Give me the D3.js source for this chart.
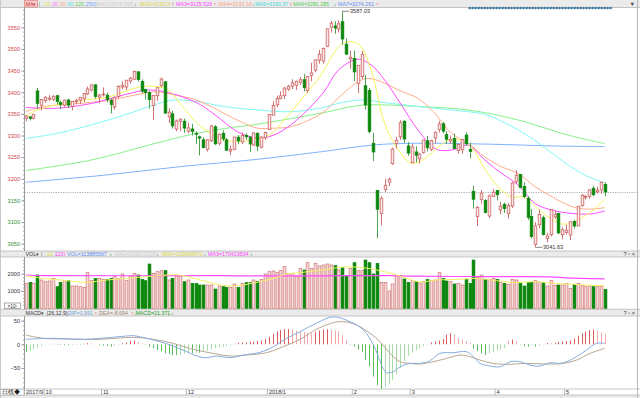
<!DOCTYPE html>
<html><head><meta charset="utf-8">
<script src="https://cdn.jsdelivr.net/npm/d3@7"></script>
<style>body{margin:0;background:#fff;} text{font-family:"Liberation Sans",Arial,sans-serif;}</style>
</head><body>
<script>
const dates = ["2017/09/27","2017/09/28","2017/09/29",
"2017/10/09","2017/10/10","2017/10/11","2017/10/12","2017/10/13","2017/10/16","2017/10/17","2017/10/18","2017/10/19","2017/10/20","2017/10/23","2017/10/24","2017/10/25","2017/10/26","2017/10/27","2017/10/30","2017/10/31",
"2017/11/01","2017/11/02","2017/11/03","2017/11/06","2017/11/07","2017/11/08","2017/11/09","2017/11/10","2017/11/13","2017/11/14","2017/11/15","2017/11/16","2017/11/17","2017/11/20","2017/11/21","2017/11/22","2017/11/23","2017/11/24","2017/11/27","2017/11/28","2017/11/29","2017/11/30",
"2017/12/01","2017/12/04","2017/12/05","2017/12/06","2017/12/07","2017/12/08","2017/12/11","2017/12/12","2017/12/13","2017/12/14","2017/12/15","2017/12/18","2017/12/19","2017/12/20","2017/12/21","2017/12/22","2017/12/25","2017/12/26","2017/12/27","2017/12/28","2017/12/29",
"2018/01/02","2018/01/03","2018/01/04","2018/01/05","2018/01/08","2018/01/09","2018/01/10","2018/01/11","2018/01/12","2018/01/15","2018/01/16","2018/01/17","2018/01/18","2018/01/19","2018/01/22","2018/01/23","2018/01/24","2018/01/25","2018/01/26","2018/01/29","2018/01/30","2018/01/31",
"2018/02/01","2018/02/02","2018/02/05","2018/02/06","2018/02/07","2018/02/08","2018/02/09","2018/02/12","2018/02/13","2018/02/14","2018/02/22","2018/02/23","2018/02/26","2018/02/27","2018/02/28",
"2018/03/01","2018/03/02","2018/03/05","2018/03/06","2018/03/07","2018/03/08","2018/03/09","2018/03/12","2018/03/13","2018/03/14","2018/03/15","2018/03/16","2018/03/19","2018/03/20","2018/03/21","2018/03/22","2018/03/23","2018/03/26","2018/03/27","2018/03/28","2018/03/29","2018/03/30",
"2018/04/02","2018/04/03","2018/04/04","2018/04/09","2018/04/10","2018/04/11","2018/04/12","2018/04/13","2018/04/16","2018/04/17","2018/04/18","2018/04/19","2018/04/20","2018/04/23","2018/04/24","2018/04/25","2018/04/26","2018/04/27",
"2018/05/02","2018/05/03","2018/05/04","2018/05/07","2018/05/08","2018/05/09","2018/05/10","2018/05/11","2018/05/14","2018/05/15","2018/05/16"];

const openP = [3340,3343,3340,3403,3370,3381,3384,3383,3392,3376,
3370,3382,3367,3378,3382,3385,3396,3405,3417,3389,
3395,3393,3381,3366,3390,3412,3412,3426,3430,3447,
3425,3406,3399,3369,3392,3415,3424,3343,3350,3315,
3333,3333,3310,3315,3305,3297,3290,3268,3288,3320,
3282,3305,3290,3264,3268,3296,3285,3300,3296,3278,
3305,3273,3295,3314,3347,3371,3386,3392,3407,3414,
3416,3423,3429,3404,3439,3451,3474,3472,3506,3550,
3553,3546,3563,3511,3477,3478,3420,3436,3415,3404,
3282,3173,3120,3175,3192,3235,3281,3297,3333,3276,
3237,3262,3246,3261,3288,3268,3294,3314,3327,3302,
3287,3293,3265,3267,3301,3268,3171,3113,3152,3150,
3114,3159,3173,3128,3141,3120,3137,3194,3210,3182,
3155,3113,3048,3094,3110,3062,3071,3112,3120,3071,
3076,3070,3101,3091,3138,3157,3159,3178,3170,3174,3187];

const highP = [3346,3345,3350,3410,3384,3391,3393,3393,3394,3381,
3383,3385,3379,3385,3389,3397,3413,3418,3418,3396,
3411,3399,3386,3390,3416,3425,3428,3435,3450,3449,
3430,3408,3403,3393,3412,3434,3426,3363,3357,3337,
3339,3339,3330,3327,3310,3300,3296,3292,3324,3324,
3305,3312,3294,3277,3297,3301,3307,3305,3299,3307,
3308,3298,3309,3349,3379,3392,3402,3412,3417,3430,
3427,3435,3442,3437,3468,3475,3498,3503,3548,3565,
3564,3566,3587.03,3524,3496,3496,3463,3496,3440,3410,
3306,3173,3160,3200,3203,3272,3297,3335,3335,3285,
3280,3275,3260,3290,3299,3290,3309,3334,3331,3310,
3300,3304,3281,3292,3307,3283,3184,3137,3174,3153,
3164,3176,3174,3147,3145,3144,3193,3220,3211,3192,
3160,3130,3100,3129,3115,3075,3130,3126,3122,3088,
3094,3101,3105,3137,3165,3163,3176,3184,3182,3193,3192];

const lowP = [3333,3335,3337,3362,3358,3375,3379,3380,3372,3361,
3366,3363,3358,3372,3373,3377,3394,3402,3385,3374,
3390,3377,3351,3360,3386,3407,3405,3420,3428,3425,
3398,3383,3362,3336,3380,3411,3350,3329,3316,3310,
3310,3306,3305,3300,3280,3254,3270,3263,3285,3278,
3277,3287,3264,3255,3266,3280,3280,3290,3262,3276,
3264,3270,3290,3314,3346,3365,3383,3384,3403,3407,
3405,3417,3402,3398,3425,3446,3466,3466,3504,3538,
3535,3538,3510,3486,3454,3426,3398,3431,3360,3305,
3241,3062.74,3092,3170,3183,3232,3270,3290,3283,3253,
3237,3238,3235,3258,3263,3264,3282,3307,3305,3281,
3280,3269,3258,3258,3276,3247,3131,3091,3142,3120,
3109,3159,3150,3118,3121,3108,3132,3188,3178,3155,
3105,3062,3041.63,3085,3069,3053,3067,3107,3072,3060,
3071,3058,3085,3091,3136,3152,3154,3160,3166,3165,3160];

const closeP = [3345.27,3339.64,3348.94,3374.38,3382.99,3388.28,3386.10,3390.52,3378.47,3372.04,
3381.79,3370.17,3378.65,3380.70,3388.25,3396.90,3407.57,3416.81,3390.34,3393.34,
3395.91,3383.31,3371.74,3388.17,3413.57,3415.46,3427.79,3432.67,3447.84,3429.55,
3402.52,3399.25,3382.91,3392.40,3410.50,3430.46,3351.92,3353.82,3322.23,3333.66,
3337.86,3317.19,3317.62,3309.62,3303.68,3293.96,3272.05,3289.99,3322.20,3280.81,
3303.04,3292.44,3266.14,3267.92,3296.39,3287.61,3300.06,3297.06,3280.46,3306.12,
3275.78,3296.38,3307.17,3348.33,3369.11,3385.71,3391.75,3409.48,3413.90,3421.83,
3425.34,3428.94,3410.49,3436.59,3444.67,3474.75,3487.86,3501.36,3546.50,3559.47,
3548.31,3558.13,3523.00,3488.01,3480.83,3446.98,3462.08,3487.50,3370.65,3309.26,
3262.05,3129.85,3154.13,3184.96,3199.16,3268.56,3289.02,3329.57,3292.07,3259.41,
3273.75,3254.53,3256.93,3289.64,3271.67,3288.41,3307.17,3326.70,3310.24,3291.38,
3291.11,3269.88,3279.25,3290.64,3280.95,3263.48,3152.76,3133.72,3166.65,3122.29,
3160.53,3168.90,3163.18,3136.63,3131.11,3138.29,3190.32,3208.08,3180.16,3159.05,
3110.65,3066.80,3091.40,3117.38,3071.54,3068.01,3128.93,3117.97,3075.03,3082.23,
3081.18,3100.86,3091.03,3136.64,3161.50,3159.15,3174.41,3163.26,3174.03,3192.12,3169.57];

// volume in units of 10^5
const volume = [1443,1500,1443,1925,1636,1540,1580,1732,1250,1500,
1597,1597,1290,1290,1250,1212,2060,1597,1732,1732,
1674,1674,1732,1828,1732,1983,1597,1867,2021,1925,
1674,1597,2560,2021,2117,2175,2175,1636,1732,1867,
1867,1540,1636,1443,1443,1347,1347,1347,1347,1115,
1290,1250,1212,1212,1405,1212,1443,1482,1482,1636,
1560,1674,1983,2117,2156,2060,2175,2407,2021,2021,
1828,2310,2214,2638,2310,2600,2450,2503,2561,2503,
2464,2214,2368,1867,2310,2638,2175,2175,2792,2638,
1983,2600,1501,1501,1000,1405,1867,1886,1694,1501,
1597,1540,1462,1540,1674,1597,1636,2060,1732,1578,
1540,1405,1443,1347,1674,1443,2792,1790,1925,1674,
1674,1732,1674,1482,1443,1385,1674,1636,1443,1290,
1482,1501,1597,1520,1482,1290,1597,1327,1347,1347,
1443,1154,1385,1443,1308,1250,1290,1250,1250,1250,1096];

// price moving averages: [candle index, value]
const ma10 = [[0,3345],[3,3359],[8,3371],[17,3384],[21,3388],[25.5,3401],[30,3413],[34,3413],[37,3405],[40,3374],[44.5,3328],[48,3305],[51.5,3290],[56,3286],[60,3294],[63,3300],[67,3336],[72,3390],[76.5,3440],[81,3505],[83.5,3517],[86.5,3509],[89.5,3451],[93,3328],[96.5,3267],[100,3236],[103.5,3247],[107,3274],[110,3290],[114.5,3282],[119,3222],[122.5,3180],[126,3158],[129,3158],[132.5,3132],[136,3108],[139.5,3095],[143,3105],[146.5,3124],[150,3152.8]];
const ma20 = [[0,3365],[8,3363],[17,3374],[25.5,3394],[31.5,3405],[36,3401],[41,3388],[45.3,3371],[49.6,3344],[54.8,3309],[60,3294],[64.3,3301],[68.6,3324],[73,3359],[77.3,3401],[81,3451],[86,3476],[89.5,3463],[93,3428],[97.3,3371],[101.6,3313],[106,3270],[108.5,3265],[112,3270],[114.6,3278],[119,3243],[123.2,3213],[127.5,3186],[131.9,3143],[136.2,3128],[141.4,3120],[146.5,3119],[150,3125.5]];
const ma30 = [[0,3355],[4.7,3367],[12.5,3373],[21.2,3381],[29.8,3396],[34.1,3401],[38.4,3394],[42.7,3386],[47.1,3371],[51.4,3351],[55.7,3332],[60,3317],[64.3,3317],[68.6,3320],[73,3334],[77.3,3355],[80.9,3386],[86.1,3424],[88.7,3432],[93,3421],[96.5,3405],[101.6,3386],[106,3351],[110.3,3305],[114.6,3282],[118.9,3251],[123.2,3228],[127.5,3213],[131.9,3182],[136.2,3159],[141.4,3136],[144.8,3130],[150,3133.2]];
const ma60 = [[0,3293],[8.2,3305],[16.8,3324],[25.5,3347],[34.1,3373],[38.4,3382],[44.5,3378],[51.4,3367],[60,3359],[68.6,3355],[77.3,3365],[80.9,3374],[87,3382],[93,3376],[101.6,3367],[110.3,3359],[118.9,3349],[124,3330],[130,3300],[136,3262],[140,3235],[145,3208],[150,3190.4]];
const ma120 = [[0,3219],[16.8,3243],[34.1,3283],[42.7,3302],[51.4,3316],[60,3326],[77.3,3353],[87,3370],[101.6,3367],[114.6,3359],[127.5,3336],[140.5,3301],[150,3281.3]];
const ma250 = [[0,3192],[20,3208],[40,3228],[60,3245],[77,3263],[90,3278],[101,3282],[120,3280],[136,3276],[150,3274.3]];

// volume moving averages: [candle index, value]
const volMa10 = [[0,1867],[4.6,1732],[10.6,1597],[15.8,1500],[21,1636],[26.2,1732],[31.3,1828],[36.5,1925],[40,1925],[43.4,1732],[46.9,1540],[50.3,1347],[53.8,1290],[57.2,1385],[60.7,1540],[64.2,1732],[67.6,1983],[71.1,2060],[75.4,2175],[78,2250],[81.4,2368],[86.6,2368],[91.8,2175],[96.1,1925],[99.6,1674],[102.1,1520],[106.5,1636],[112.5,1674],[116.8,1732],[122,1597],[127.2,1482],[131.5,1540],[136.7,1443],[141.9,1385],[146,1340],[150,1300]];
const volMa120 = [[0,1925],[5,1890],[50,1885],[60,1870],[76,1880],[95,1890],[100,1860],[120,1830],[136,1820],[140,1760],[150,1704]];

// MACD (26,12,9)
const difPts = [[0,10.5],[6.3,12.6],[14.9,10.5],[19.3,12.6],[26.2,17.5],[27.9,18.2],[31.3,12.6],[34.8,5.5],[38.2,-3.6],[41.7,-15.6],[46,-28.3],[49.5,-24.8],[53,-28.3],[56.4,-22.7],[60.7,-17],[64.2,-5],[67.6,12.6],[71.1,26.7],[75.4,45],[79.7,58],[84,47.8],[87.5,30.2],[90.1,-1.5],[92.6,-50.9],[93.5,-60],[95.2,-57.9],[97,-47.4],[99.6,-40.3],[102.1,-40.3],[104.7,-34.7],[107.3,-19.2],[110.8,-17.7],[114.2,-15.6],[116,-26.2],[117.7,-40.3],[120.3,-45.9],[122.9,-47.4],[125.5,-36.8],[128.1,-36.8],[130.6,-43.8],[133.2,-45.9],[135.8,-38.9],[138.4,-40.3],[140.1,-36.8],[142.7,-26.2],[145.3,-12.1],[147.9,2],[150,1.991]];
const deaPts = [[0,19.6],[4.6,12.6],[10.6,11.2],[19.3,10.5],[27.9,14.7],[33.1,10.5],[38.2,2],[43.4,-10.7],[48.6,-19.2],[53,-24.8],[57.2,-22.7],[62.4,-17.7],[66.7,-5],[71.1,10.5],[75.4,32],[79.7,45.7],[82.3,47.8],[85.7,40.8],[89.2,23.2],[91.8,5.5],[94.4,-19.2],[97,-36.8],[99.6,-40.3],[102.1,-41.7],[105.6,-36.8],[109,-29.7],[112.5,-22.7],[115.1,-26.2],[117.7,-33.3],[121.1,-40.3],[124.6,-42.4],[129.8,-40.3],[135,-41.7],[139.3,-40.3],[142.7,-33.3],[146.2,-19.2],[150,-8.694]];
const macdHist = [-16,-14,-11,-7,-4,-1,0.5,1,-1,-1.5,
-2,-2,-1.5,-1,-1,1,2.5,2,1,-2,
-3,-4,-5,-3,-1,2,4,7,8,5,
2,-1.5,-5,-8,-12,-15,-19,-21,-23,-23,
-22,-20,-19,-19,-18,-18,-16,-14,-11,-8,
-6,-5,-4,-2,1,3,4,4,5,5.5,
7,8,11,16,22,27,30,32,32,31,
29,28,26,25,23,26,29,31,32,31,
29,27,20,8,-2,-5,-11,-16,-33,-47,
-68,-86,-95,-90,-84,-76,-63,-50,-35,-24,
-17,-12,-8,-4,-1,4,6,8,11,20,
23,20,13,10,7,3,-9,-14,-19,-23,
-19,-16,-13,-11,-8,7,10,6,-2,-4,
-5,-2,-5,-3,0.5,3,2,3,5,6,
7,8,12,18,23,27,30,31,29,25,
21.371];

const priceTicks = [3550,3500,3450,3400,3350,3300,3250,3200,3150,3100,3050];
const volTicks = [2000,1000];
const macdTicks = [50,0,-50];

// ---------- drawing ----------
const W = 640, H = 398, FS = 5.6, HFS = 5.3;
const svg = d3.select("body").append("svg").attr("width", W).attr("height", H).style("display","block");
svg.append("rect").attr("width", W).attr("height", H).attr("fill", "#fff");

const n = closeP.length;
const x = d3.scaleLinear().domain([0, n - 1]).range([25.7, 604.7]);
const yP = d3.scaleLinear().domain([3050, 3550]).range([243.7, 27.3]);
const yV = d3.scaleLinear().domain([0, 2000]).range([308.3, 273.7]);
const yM = d3.scaleLinear().domain([-50, 50]).range([368, 320.6]);
const fmt = d3.format("d");

const PL = 24.5, PR = 637;
// panel strips
const strips = [[0, 7.5], [251, 6], [309.3, 6.7], [395, 3]];
strips.forEach(s => svg.append("rect").attr("x", 0).attr("y", s[0]).attr("width", W).attr("height", s[1]).attr("fill", "#ebebeb"));
[7.5, 251, 257, 309.3, 316, 389, 395].forEach(l => svg.append("line").attr("x1", 0).attr("x2", W).attr("y1", l).attr("y2", l).attr("stroke", "#b8b8b8").attr("stroke-width", 0.8));
svg.append("line").attr("x1", PR + 0.5).attr("x2", PR + 0.5).attr("y1", 0).attr("y2", 398).attr("stroke", "#b8b8b8");
svg.append("line").attr("x1", 0.5).attr("x2", 0.5).attr("y1", 0).attr("y2", 398).attr("stroke", "#c8c8c8");

// axes
function styleAxis(g, fmtColor) {
  g.select(".domain").attr("stroke", "#9a9a9a");
  g.selectAll(".tick line").attr("stroke", "#9a9a9a");
  g.selectAll(".tick text").attr("font-size", FS).attr("font-family", "Liberation Sans, Arial, sans-serif")
    .attr("fill", fmtColor || "#333");
}
const lastClose = closeP[n - 1];
const gPm = svg.append("g").attr("transform", `translate(${PL},0)`)
  .call(d3.axisLeft(yP).tickValues(d3.range(3040, 3591, 10)).tickSize(1.5).tickFormat(""));
gPm.select(".domain").remove(); gPm.selectAll("line").attr("stroke", "#aaa");
const gP = svg.append("g").attr("transform", `translate(${PL},0)`)
  .call(d3.axisLeft(yP).tickValues(priceTicks).tickSize(3).tickPadding(1.5).tickSizeOuter(0).tickFormat(fmt));
gP.select(".domain").attr("d", `M0,7.5V251`);
styleAxis(gP);
gP.selectAll(".tick text").attr("fill", d => d > lastClose ? "#d04848" : "#2f8f2f");

const gVm = svg.append("g").attr("transform", `translate(${PL},0)`)
  .call(d3.axisLeft(yV).tickValues(d3.range(200, 2801, 200)).tickSize(1.5).tickFormat(""));
gVm.select(".domain").remove(); gVm.selectAll("line").attr("stroke", "#aaa");
const gV = svg.append("g").attr("transform", `translate(${PL},0)`)
  .call(d3.axisLeft(yV).tickValues(volTicks).tickSize(3).tickPadding(1.5).tickSizeOuter(0).tickFormat(fmt));
gV.select(".domain").attr("d", `M0,257V309.3`);
styleAxis(gV);

const gMm = svg.append("g").attr("transform", `translate(${PL},0)`)
  .call(d3.axisLeft(yM).tickValues(d3.range(-90, 91, 10)).tickSize(1.5).tickFormat(""));
gMm.select(".domain").remove(); gMm.selectAll("line").attr("stroke", "#aaa");
gMm.selectAll(".tick").filter(d => yM(d) < 317 || yM(d) > 389).remove();
const gM = svg.append("g").attr("transform", `translate(${PL},0)`)
  .call(d3.axisLeft(yM).tickValues(macdTicks).tickSize(3).tickPadding(1.5).tickSizeOuter(0).tickFormat(fmt));
gM.select(".domain").attr("d", `M0,316V389`);
styleAxis(gM);

// x10^5 box
svg.append("rect").attr("x", 4.5).attr("y", 303).attr("width", 16).attr("height", 5.5).attr("fill", "#fff").attr("stroke", "#777").attr("stroke-width", 0.6);
svg.append("text").attr("x", 12.5).attr("y", 307.6).attr("text-anchor", "middle").attr("font-size", 4.8).attr("fill", "#333").text("×10⁵");

// clip paths
const defs = svg.append("defs");
defs.append("clipPath").attr("id", "cm").append("rect").attr("x", PL).attr("y", 8).attr("width", PR - PL).attr("height", 243);
defs.append("clipPath").attr("id", "cv").append("rect").attr("x", PL).attr("y", 257).attr("width", PR - PL).attr("height", 52);
defs.append("clipPath").attr("id", "cmc").append("rect").attr("x", PL).attr("y", 316).attr("width", PR - PL).attr("height", 73);

// last close dashed line
svg.append("line").attr("x1", PL).attr("x2", PR).attr("y1", Math.round(yP(lastClose)) + 0.5).attr("y2", Math.round(yP(lastClose)) + 0.5)
  .attr("stroke", "#999").attr("stroke-dasharray", "1.2,1.2").attr("stroke-width", 0.8);

// moving averages (main)
const maLine = d3.line().x(d => x(d[0])).y(d => yP(d[1])).curve(d3.curveCatmullRom.alpha(0.5));
const gMA = svg.append("g").attr("clip-path", "url(#cm)");
[[ma250, "#7fb2ff"], [ma120, "#86f086"], [ma60, "#7ff6f6"], [ma30, "#ffab8a"], [ma20, "#ff4dff"], [ma10, "#f4f45c"]].forEach(([d, c]) =>
  gMA.append("path").attr("d", maLine(d)).attr("fill", "none").attr("stroke", c).attr("stroke-width", 1));

// candles
const up = i => closeP[i] >= openP[i];
const UPC = "#cf6262", DNC = "#0a860a";
const gC = svg.append("g").attr("clip-path", "url(#cm)");
const bw = 2.6;
d3.range(n).forEach(i => {
  const cx = Math.round(x(i)) + 0.5;
  const u = up(i);
  const top = yP(Math.max(openP[i], closeP[i])), bot = yP(Math.min(openP[i], closeP[i]));
  gC.append("line").attr("x1", cx).attr("x2", cx).attr("y1", yP(highP[i])).attr("y2", top).attr("stroke", u ? UPC : "#3a9a3a").attr("stroke-width", 0.9);
  gC.append("line").attr("x1", cx).attr("x2", cx).attr("y1", bot).attr("y2", yP(lowP[i])).attr("stroke", u ? UPC : "#3a9a3a").attr("stroke-width", 0.9);
  gC.append("rect").attr("x", cx - bw / 2).attr("y", top).attr("width", bw).attr("height", Math.max(0.8, bot - top))
    .attr("fill", u ? "#fbeaea" : DNC).attr("stroke", u ? UPC : DNC).attr("stroke-width", 0.8);
});

// high / low markers
const iHi = d3.maxIndex(highP), iLo = d3.minIndex(lowP);
[[iHi, highP[iHi]], [iLo, lowP[iLo]]].forEach(([i, v]) => {
  const px = Math.round(x(i)) + 0.5, py = yP(v);
  svg.append("line").attr("x1", px).attr("x2", px + 7).attr("y1", py).attr("y2", py).attr("stroke", "#555").attr("stroke-width", 0.7);
  svg.append("text").attr("x", px + 7.5).attr("y", py + 2).attr("font-size", FS).attr("fill", "#333").text(v.toFixed(2));
});

// volume bars
const gVol = svg.append("g").attr("clip-path", "url(#cv)");
d3.range(n).forEach(i => {
  const cx = Math.round(x(i)) + 0.5, u = up(i);
  gVol.append("rect").attr("x", cx - 1.4).attr("y", yV(volume[i])).attr("width", 2.8).attr("height", yV(0) - yV(volume[i]))
    .attr("fill", u ? "#f6dede" : DNC).attr("stroke", u ? "#d27070" : DNC).attr("stroke-width", 0.7);
});
const vLine = d3.line().x(d => x(d[0])).y(d => yV(d[1])).curve(d3.curveCatmullRom.alpha(0.5));
gVol.append("path").attr("d", vLine(volMa120)).attr("fill", "none").attr("stroke", "#ff4dff").attr("stroke-width", 1.2);
gVol.append("path").attr("d", vLine(volMa10)).attr("fill", "none").attr("stroke", "#f2f266").attr("stroke-width", 1);

// MACD
const gMac = svg.append("g").attr("clip-path", "url(#cmc)");
d3.range(n).forEach(i => {
  const v = macdHist[i], prev = i ? macdHist[i - 1] : v;
  const grow = Math.abs(v) >= Math.abs(prev);
  const c = v >= 0 ? (grow ? "#e05a5a" : "#f2a8a8") : (grow ? "#5cbc5c" : "#a6dca6");
  const cx = Math.round(x(i)) + 0.5;
  gMac.append("line").attr("x1", cx).attr("x2", cx).attr("y1", yM(0)).attr("y2", yM(v)).attr("stroke", c).attr("stroke-width", 1);
});
const mLine = d3.line().x(d => x(d[0])).y(d => yM(d[1])).curve(d3.curveCatmullRom.alpha(0.5));
gMac.append("path").attr("d", mLine(deaPts)).attr("fill", "none").attr("stroke", "#b9a692").attr("stroke-width", 1);
gMac.append("path").attr("d", mLine(difPts)).attr("fill", "none").attr("stroke", "#86ace0").attr("stroke-width", 1);

// date axis
const months = [];
dates.forEach((d, i) => {
  const [yy, mm] = d.split("/");
  if (i === 0 || dates[i - 1].split("/")[1] !== mm) months.push({ i, label: (i === 0 || mm === "01") ? `${yy}/${+mm}` : `${+mm}` });
});
let lastEnd = 0;
months.forEach((m, k) => {
  let tx = k === 0 ? PL : x(m.i) - 1.5;
  if (tx < lastEnd + 1) tx = lastEnd + 1;
  svg.append("line").attr("x1", tx).attr("x2", tx).attr("y1", 389).attr("y2", 395).attr("stroke", "#999").attr("stroke-width", 0.7);
  const t = svg.append("text").attr("x", tx + 1.5).attr("y", 394).attr("font-size", FS).attr("fill", "#333").text(m.label);
  lastEnd = tx + 1.5 + t.node().getComputedTextLength();
});
svg.append("rect").attr("x", 0.5).attr("y", 389.5).attr("width", 23.5).attr("height", 5.5).attr("fill", "#fff").attr("stroke", "#aaa").attr("stroke-width", 0.5);
svg.append("text").attr("x", 2).attr("y", 394).attr("font-size", FS).attr("font-family", "Noto Sans CJK SC").attr("fill", "#222").text("日线◆");

// headers: each segment starts at its reference x, pushed right if the previous one is longer
function header(y, segs) {
  let end = 0;
  segs.forEach(s => {
    const sx = Math.max(s[0], end + 0.3);
    const t = svg.append("text").attr("x", sx).attr("y", y).attr("font-size", HFS).attr("fill", s[2]).text(s[1]);
    end = sx + t.node().getComputedTextLength();
  });
}
svg.append("rect").attr("x", 24.5).attr("y", 0.5).attr("width", 13).attr("height", 6.5).attr("fill", "#f9d3d3").attr("stroke", "#e07070").attr("stroke-width", 0.6);
header(5.9, [[25.5, "MA▾", "#c03030"], [38.5, "( ,", "#777"], [44.5, "10", "#e0e040"], [50.5, ",20", "#ff66ff"], [58, ",30", "#ffa080"], [65.5, ",60", "#50e0e0"], [73, ",120", "#60d060"], [83, ",250)", "#6fa0ff"],
  [96, "MA1=3170.955", "#cfcfcf"], [134, "↓", "#1a9a1a"], [140, "MA2=3152.8", "#d8d840"], [171.5, "↑", "#e03030"],
  [176, "MA3=3125.526", "#ff44ff"], [213.5, "↑", "#e03030"], [217, ".MA4=3133.16", "#ff9a7a"], [251, "↓", "#1a9a1a"],
  [255, "MA5=3190.37", "#40dada"], [289.5, "↑", "#e03030"], [293, "MA6=3281.285", "#50d050"], [333.5, "↓", "#1a9a1a"],
  [338, "MA7=3274.261", "#5b8ff0"], [376, "↑", "#e03030"]]);
header(255.8, [[25.5, "VOL▾", "#333"], [41, "( ,", "#777"], [47, "10", "#d8d840"], [53, ",120)", "#ff44ff"], [67, "VOL=113885567", "#5b8ff0"], [109.5, "↓", "#1a9a1a"],
  [115, "MA1=125811328", "#cfcfcf"], [156, "↓", "#1a9a1a"], [162, "MA2=129958072", "#d8d840"], [203.5, "↓", "#1a9a1a"], [208, "MA3=170423534", "#ff44ff"], [250, "↓", "#1a9a1a"]]);
header(314.6, [[25.5, "MACD▾", "#333"], [46.5, "(26,12,9)", "#333"], [68, "DIF=1.991", "#6f9fdf"], [94.5, "↑", "#e03030"], [97, ".DEA=-8.694", "#a08870"], [131, "↑", "#e03030"], [133.5, ".MACD=21.371", "#1a9a1a"], [171, "↓", "#1a9a1a"]]);

// icons at right of headers
[[5.9, "▼"], [255.8, "? ▫ ×"], [314.6, "? ▫ ×"]].forEach(([yy, t]) => svg.append("text").attr("x", 635).attr("y", yy).attr("text-anchor", "end").attr("font-size", FS).attr("fill", "#444").text(t));
// diamond row
svg.selectAll(".dia").data(d3.range(48)).enter().append("text").attr("x", d => 468 + d * 3).attr("y", 8.6).attr("font-size", 3.6).attr("fill", "#2e6f9a").text("◆");
</script>
</body></html>
